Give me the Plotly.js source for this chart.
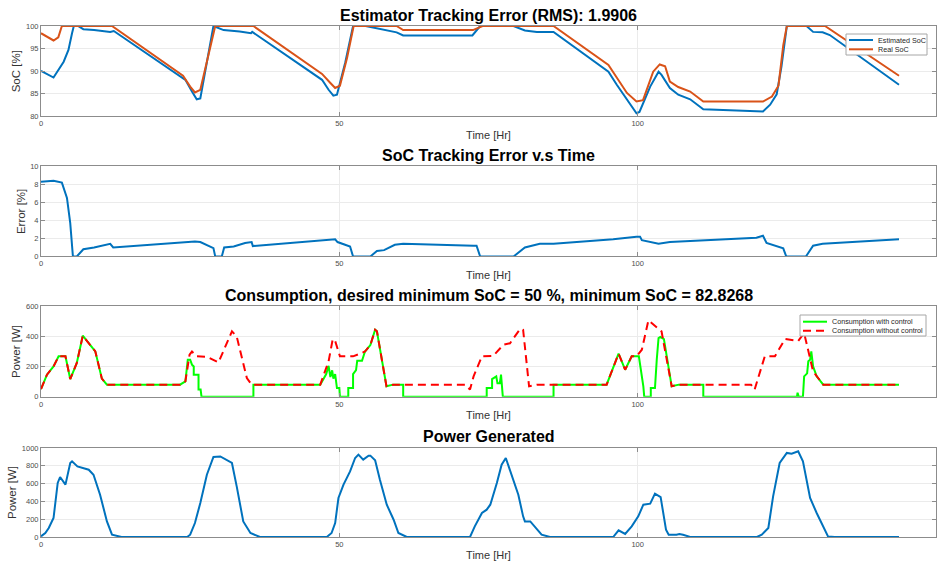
<!DOCTYPE html>
<html>
<head>
<meta charset="utf-8">
<script src="https://cdn.plot.ly/plotly-3.0.1.min.js"></script>
<style>html,body{margin:0;padding:0;background:#fff;}#chart{width:942px;height:570px;}</style>
</head>
<body>
<div id="chart"></div>
<script>
// ---- Data ----
const estSocT = [0, 2.1, 3.8, 4.6, 5.2, 5.5, 6.2, 7.1, 8.9, 11.6,
  12.2, 24.2, 25.3, 26.1, 26.7, 27.8, 28.9, 30.6, 33.3, 35.2,
  35.4, 47.1, 48.2, 49.0, 49.6, 51.0, 52.3, 54.4, 56.3, 58.0,
  59.6, 60.7, 72.3, 73.6, 79.2, 81.1, 83.1, 85.9, 95.1, 96.5,
  98.2, 99.8, 100.3, 102.1, 103.5, 104.0, 105.4, 106.8, 108.8, 111.0,
  121.0, 122.2, 123.3, 124.1, 125.0, 128.3, 129.4, 131.0, 132.2, 143.8];
const estSocV = [90.1, 88.6, 92.1, 94.7, 98.4, 100, 100, 99.3, 99.1, 98.7,
  98.9, 88.1, 85.5, 83.8, 84.0, 92.0, 100, 99.1, 98.8, 98.4,
  98.7, 88.1, 85.9, 84.6, 84.8, 92.0, 100, 100, 99.5, 99.1,
  98.6, 97.9, 97.9, 100, 100, 99.0, 98.7, 98.7, 89.9, 87.0,
  83.7, 80.7, 81.0, 86.6, 89.9, 89.2, 86.3, 84.8, 83.8, 81.6,
  81.1, 82.6, 84.9, 91.0, 100, 100, 98.7, 98.6, 98.0, 87.0];

const realSocT = [0, 2.1, 2.9, 3.5, 11.9, 23.8, 25.0, 25.8, 26.7, 28.0,
  29.2, 35.6, 47.1, 48.5, 49.3, 50.1, 51.3, 52.4, 59.6, 60.7,
  72.4, 74.0, 85.9, 95.1, 96.5, 98.2, 99.8, 100.9, 102.6, 103.7,
  104.6, 105.4, 106.8, 108.8, 111.0, 121.0, 122.5, 123.6, 124.4, 125.0,
  131.4, 143.8];
const realSocV = [98.4, 96.8, 97.5, 100, 100, 89.0, 86.6, 85.3, 85.9, 93.0,
  100, 100, 89.4, 87.4, 86.3, 86.8, 93.0, 100, 100, 99.1,
  99.1, 100, 100, 91.4, 88.5, 85.2, 83.3, 83.6, 89.9, 91.5,
  91.1, 87.7, 86.5, 85.5, 83.3, 83.3, 84.4, 86.8, 95.7, 100,
  100, 89.0];

const errT = [0, 2.1, 3.5, 4.35, 4.9, 5.35, 6.0, 7.1, 8.9, 11.6,
  12.1, 25.8, 26.7, 28.9, 29.2, 30.3, 30.7, 32.3, 34.2, 35.3,
  35.5, 49.3, 49.7, 51.8, 52.3, 55.2, 56.3, 57.5, 59.3, 60.7,
  72.5, 73.0, 73.6, 79.2, 81.1, 83.6, 85.9, 95.9, 99.8, 100.4,
  100.7, 103.5, 105.4, 119.9, 121.0, 121.6, 124.4, 124.9, 128.2, 129.4,
  131.0, 143.8];
const errV = [8.3, 8.4, 8.2, 6.5, 3.7, 0, 0, 0.8, 1.0, 1.4,
  1.0, 1.67, 1.6, 0.93, 0, 0, 1.0, 1.1, 1.5, 1.6,
  1.15, 1.9, 1.6, 1.1, 0, 0, 0.6, 0.7, 1.3, 1.4,
  1.2, 1.2, 0, 0, 1.0, 1.4, 1.4, 1.9, 2.2, 2.2,
  1.8, 1.4, 1.6, 2.07, 2.3, 1.5, 0.9, 0, 0, 1.2,
  1.4, 1.9];

const withCtrlT = [0, 1, 2.1, 2.95, 4.1, 4.9, 6.0, 7.0, 9.1, 10.2,
  11.05, 23.3, 24.2, 24.6, 25.0, 25.3, 25.6, 25.6, 26.4, 26.4,
  26.75, 26.9, 35.6, 35.6, 46.8, 47.8, 48.2, 48.5, 48.8, 49.0,
  49.3, 49.6, 50.0, 50.1, 51.5, 51.5, 52.3, 52.3, 52.8, 53.0,
  53.8, 54.1, 54.3, 55.2, 56.0, 56.3, 57.9, 59.0, 60.7, 60.7,
  74.7, 74.7, 75.6, 75.6, 76.3, 76.5, 76.9, 77.1, 77.3, 77.4,
  85.9, 85.9, 94.8, 96.8, 97.9, 99.0, 100.2, 100.5, 100.7, 100.95,
  101.1, 102.2, 102.2, 102.9, 103.2, 103.5, 103.8, 104.4, 105.7, 106.9,
  111.0, 111.0, 126.7, 126.8, 127.0, 127.7, 127.9, 128.4, 128.6, 128.9,
  129.1, 129.4, 130.0, 131.1, 143.8];
const withCtrlV = [51, 146, 201, 268, 268, 117, 224, 405, 301, 120,
  80, 80, 102, 246, 246, 213, 201, 146, 146, 47,
  47, 0, 0, 80, 80, 150, 205, 130, 175, 120,
  150, 57, 57, 0, 0, 57, 57, 150, 177, 239,
  239, 285, 300, 343, 445, 435, 69, 80, 80, 0,
  0, 57, 57, 117, 135, 90, 90, 146, 75, 0,
  0, 80, 80, 286, 179, 268, 268, 191, 150, 69,
  0, 0, 57, 57, 246, 390, 397, 383, 69, 80,
  80, 0, 0, 26, 0, 0, 135, 155, 235, 246,
  301, 201, 135, 80, 80];

const noCtrlT = [0, 1, 2.1, 2.95, 4.1, 4.9, 6.0, 7.0, 9.1, 10.2,
  11.05, 23.3, 24.2, 24.9, 25.3, 26.1, 27.8, 29.75, 32.0, 32.8,
  34.5, 35.3, 46.8, 48.2, 48.9, 49.3, 50.1, 52.3, 53.4, 54.3,
  55.2, 56.0, 56.3, 57.9, 59.0, 71.1, 71.9, 72.5, 73.9, 75.8,
  77.5, 78.6, 80.3, 80.8, 81.8, 83.1, 94.8, 96.8, 97.9, 99.0,
  99.8, 100.7, 101.8, 104.0, 105.7, 106.9, 119.0, 119.6, 121.3, 123.0,
  124.7, 126.9, 127.9, 129.4, 131.1, 143.8];
const noCtrlV = [51, 146, 201, 268, 268, 117, 224, 405, 301, 120,
  80, 80, 102, 279, 300, 268, 265, 228, 434, 400,
  124, 80, 80, 235, 383, 370, 268, 268, 285, 300,
  343, 445, 435, 69, 80, 80, 47, 135, 268, 271,
  345, 355, 450, 445, 69, 80, 80, 286, 179, 268,
  268, 312, 507, 434, 69, 80, 80, 47, 268, 268,
  383, 370, 423, 168, 80, 80];

const genT = [0, 0.72, 1.3, 2.1, 2.8, 3.2, 4.1, 4.9, 5.2, 6.1,
  8.0, 8.8, 9.9, 11.05, 11.9, 13.5, 24.5, 25.0, 25.8, 26.7,
  27.8, 28.9, 30.05, 30.9, 32.0, 32.8, 33.9, 35.1, 36.7, 47.9,
  48.7, 49.3, 49.85, 50.7, 51.8, 52.65, 53.2, 54.0, 54.9, 55.2,
  56.0, 56.8, 57.95, 59.1, 59.9, 61.3, 71.9, 72.7, 73.9, 74.7,
  75.3, 76.4, 77.2, 77.9, 78.9, 80.0, 80.8, 81.1, 82.0, 83.9,
  85.3, 95.9, 96.8, 97.9, 99.0, 100.1, 100.95, 102.1, 102.9, 103.85,
  104.75, 105.2, 106.5, 107.0, 107.6, 108.8, 120.0, 120.8, 121.9, 122.7,
  123.8, 125.0, 125.8, 126.9, 127.7, 128.9, 130.0, 131.9, 133.0, 143.8];
const genV = [7, 45, 101, 213, 607, 674, 588, 832, 850, 793,
  756, 700, 475, 175, 26, 0, 0, 26, 157, 382,
  700, 899, 905, 869, 832, 569, 175, 45, 0, 0,
  45, 157, 438, 588, 737, 888, 925, 869, 914, 914,
  861, 644, 363, 194, 45, 0, 0, 119, 270, 307,
  363, 607, 813, 888, 681, 475, 232, 175, 175, 26,
  0, 0, 75, 34, 119, 232, 363, 374, 487, 449,
  82, 26, 26, 34, 26, 0, 0, 26, 101, 456,
  832, 944, 935, 962, 850, 438, 270, 7, 0, 0];

const titles = ['Estimator Tracking Error (RMS): 1.9906',
  'SoC Tracking Error v.s Time',
  'Consumption, desired minimum SoC = 50 %, minimum SoC = 82.8268',
  'Power Generated'];
const yTitles = ['SoC [%]', 'Error [%]', 'Power [W]', 'Power [W]'];
const xTitle = 'Time [Hr]';
const xTicks = [0, 50, 100, 150];
const yTickSets = [[80, 85, 90, 95, 100], [0, 2, 4, 6, 8, 10], [0, 200, 400, 600], [0, 200, 400, 600, 800, 1000]];
const yRanges = [[80, 100], [0, 10], [0, 600], [0, 1000]];
const legend1Names = ['Estimated SoC', 'Real SoC'];
const legend2Names = ['Consumption with control', 'Consumption without control'];

// ---- Styling ----
const FONT = 'Liberation Sans, Arial, Helvetica, sans-serif';
const BLUE = '#0072BD', ORANGE = '#D95319', GREEN = '#00FF00', RED = '#FF0000';
const domains = [[0.823, 1.0], [0.549, 0.7253], [0.2746, 0.4513], [0, 0.1742]];
const ML = 41, MR = 6, MT = 26, MB = 33, W = 942, H = 570;
const PW = W - ML - MR, PH = H - MT - MB;
const px = v => (v - ML) / PW;           // pixel -> paper x
const py = v => (H - MB - v) / PH;       // pixel -> paper y

const traces = [
  {x: estSocT, y: estSocV, name: legend1Names[0], mode: 'lines', line: {color: BLUE, width: 2}, xaxis: 'x', yaxis: 'y'},
  {x: realSocT, y: realSocV, name: legend1Names[1], mode: 'lines', line: {color: ORANGE, width: 2}, xaxis: 'x', yaxis: 'y'},
  {x: errT, y: errV, name: 'Error', mode: 'lines', line: {color: BLUE, width: 2}, xaxis: 'x2', yaxis: 'y2'},
  {x: withCtrlT, y: withCtrlV, name: legend2Names[0], mode: 'lines', line: {color: GREEN, width: 2}, xaxis: 'x3', yaxis: 'y3'},
  {x: noCtrlT, y: noCtrlV, name: legend2Names[1], mode: 'lines', line: {color: RED, width: 2, dash: '8px,5px'}, xaxis: 'x3', yaxis: 'y3'},
  {x: genT, y: genV, name: 'Power Generated', mode: 'lines', line: {color: BLUE, width: 2}, xaxis: 'x4', yaxis: 'y4'}
];

const layout = {
  width: W, height: H,
  margin: {l: ML, r: MR, t: MT, b: MB},
  paper_bgcolor: '#fff', plot_bgcolor: '#fff',
  font: {family: FONT, color: '#262626'},
  showlegend: false,
  annotations: [],
  shapes: []
};

for (let i = 0; i < 4; i++) {
  const sx = i === 0 ? '' : String(i + 1);
  layout['xaxis' + sx] = {
    domain: [0, 1], anchor: 'y' + sx, range: [0, 150], tickvals: xTicks,
    showline: true, mirror: 'ticks', linecolor: '#8c8c8c', linewidth: 1,
    ticks: 'inside', ticklen: 4, tickcolor: '#8c8c8c', zeroline: false,
    showgrid: true, gridcolor: '#ebebeb', tickfont: {size: 7.5, color: '#4d4d4d', family: FONT},
    title: {text: xTitle, font: {size: 11, color: '#333', family: FONT}, standoff: 3},
    automargin: false
  };
  layout['yaxis' + sx] = {
    domain: domains[i], anchor: 'x' + sx, range: yRanges[i], tickvals: yTickSets[i],
    showline: true, mirror: 'ticks', linecolor: '#8c8c8c', linewidth: 1,
    ticks: 'inside', ticklen: 4, tickcolor: '#8c8c8c', zeroline: false,
    showgrid: true, gridcolor: '#ebebeb', tickfont: {size: 7.5, color: '#4d4d4d', family: FONT},
    title: {text: yTitles[i], font: {size: 11.5, color: '#333', family: FONT}, standoff: 2},
    automargin: false
  };
  layout.annotations.push({
    text: '<b>' + titles[i] + '</b>', xref: 'x' + sx + ' domain', yref: 'y' + sx + ' domain',
    x: 0.5, y: 1, xanchor: 'center', yanchor: 'middle', yshift: 11, showarrow: false,
    font: {size: 16, color: '#000', family: FONT}
  });
}

// ---- Hand-built MATLAB-style legends (compact boxes) ----
function addLegend(box, entries) {
  // box: [x0, y0, x1, y1] in pixels; entries: {name, color, dash, y}
  layout.shapes.push({type: 'rect', xref: 'paper', yref: 'paper',
    x0: px(box[0]), x1: px(box[2]), y0: py(box[1]), y1: py(box[3]),
    fillcolor: '#fff', line: {color: '#a6a6a6', width: 1}, layer: 'above'});
  entries.forEach(e => {
    layout.shapes.push({type: 'line', xref: 'paper', yref: 'paper',
      x0: px(box[0] + 3), x1: px(box[0] + 27), y0: py(e.y), y1: py(e.y),
      line: {color: e.color, width: 2, dash: e.dash || 'solid'}, layer: 'above'});
    layout.annotations.push({text: e.name, xref: 'paper', yref: 'paper',
      x: px(box[0] + 30), y: py(e.y), xanchor: 'left', yanchor: 'middle', showarrow: false,
      font: {size: 7.2, color: '#262626', family: FONT}});
  });
}
addLegend([846, 34, 927, 55], [
  {name: legend1Names[0], color: BLUE, y: 40},
  {name: legend1Names[1], color: ORANGE, y: 49.3}
]);
addLegend([800, 315, 926, 336], [
  {name: legend2Names[0], color: GREEN, y: 321.7},
  {name: legend2Names[1], color: RED, dash: '8px,5px', y: 330.7}
]);

Plotly.newPlot('chart', traces, layout, {displayModeBar: false, staticPlot: true});
</script>
</body>
</html>
